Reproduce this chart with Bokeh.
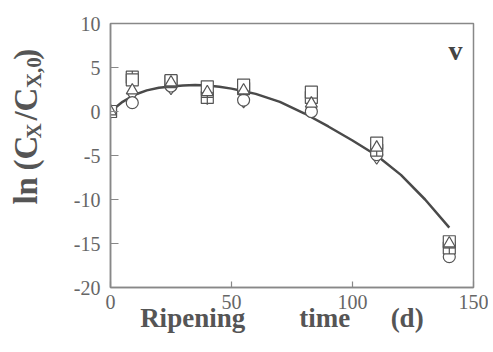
import math
from bokeh.plotting import figure
from bokeh.models import Range1d, Label, FixedTicker
from bokeh.layouts import row
from bokeh.core.properties import value
from bokeh.embed import file_html
from bokeh.resources import INLINE

# ---- data ----
days = [0, 9, 25, 40, 55, 83, 110, 140]
s_square = [0, 3.6, 3.5, 2.8, 3.0, 2.2, -3.6, -14.8]
s_square_cross = [0, 3.9, 3.4, 1.6, 2.6, 1.6, -4.4, -15.5]
s_triangle = [0, 2.4, 3.3, 2.2, 2.4, 0.9, -4.1, -15.0]
s_circle = [0, 1.0, 2.9, 2.0, 1.3, 0.0, -4.9, -16.5]
s_diamond = [0, 2.0, 2.7, 1.6, 1.2, 0.5, -5.2, -16.2]

fit_days = [0, 5, 10, 15, 20, 25, 30, 35, 40, 45, 50, 55, 60, 70, 80, 90, 100, 110, 120, 130, 140]
fit_vals = [0.0, 1.1, 1.9, 2.4, 2.7, 2.85, 2.95, 3.0, 2.95, 2.8, 2.6, 2.3, 2.0, 1.1, -0.2,
            -1.7, -3.3, -5.0, -7.2, -10.0, -13.2]

x_ticks = [0, 50, 100, 150]
x_tick_labels = ["0", "50", "100", "150"]
y_ticks = [-20, -15, -10, -5, 0, 5, 10]
y_tick_labels = ["-20", "-15", "-10", "-5", "0", "5", "10"]

x_title_words = ["Ripening", "time", "(d)"]

# ---- layout (picture pixels) ----
LEFT_W = 60               # strip holding the y-axis title
H = 344
MAIN_W = 428
FL, FT, FW, FH = 110, 23, 363, 264
X0, X1, Y0, Y1 = 0, 150, -20, 10

SERIF = "Liberation Serif"
GRAY = "#666666"
DARK = "#555555"
NB = "\u00a0"


def dx(px):
    return X0 + (px - FL) * (X1 - X0) / FW


def dy(py):
    return Y1 - (py - FT) * (Y1 - Y0) / FH


p = figure(width=MAIN_W, height=H, output_backend="svg", toolbar_location=None,
           x_range=Range1d(X0, X1), y_range=Range1d(Y0, Y1),
           min_border_left=FL - LEFT_W, min_border_right=LEFT_W + MAIN_W - FL - FW,
           min_border_top=FT, min_border_bottom=H - FT - FH)
p.grid.visible = False
p.background_fill_color = "white"
p.border_fill_color = "white"
p.outline_line_color = "#888888"
p.outline_line_width = 1.5

for ax in (p.xaxis[0], p.yaxis[0]):
    ax.axis_line_color = "#888888"
    ax.axis_line_width = 1.5
    ax.major_tick_line_color = "#888888"
    ax.major_tick_line_width = 1.2
    ax.major_tick_out = 0
    ax.minor_tick_line_color = None
    ax.major_label_text_font = SERIF
    ax.major_label_text_font_size = "20px"
    ax.major_label_text_color = GRAY

p.xaxis.ticker = FixedTicker(ticks=x_ticks)
p.yaxis.ticker = FixedTicker(ticks=y_ticks)
p.xaxis.major_label_overrides = dict(zip(x_ticks, x_tick_labels))
p.yaxis.major_label_overrides = dict(zip(y_ticks, y_tick_labels))
p.xaxis.major_tick_in = 6
p.yaxis.major_tick_in = 8
p.xaxis.major_label_standoff = 7
p.yaxis.major_label_standoff = 10

# x-axis title, words spread like the original
p.xaxis.axis_label = x_title_words[0] + NB * 8 + x_title_words[1] + NB * 6 + x_title_words[2] + NB * 3
p.xaxis.axis_label_text_font = SERIF
p.xaxis.axis_label_text_font_style = "bold"
p.xaxis.axis_label_text_font_size = "27px"
p.xaxis.axis_label_text_color = DARK
p.xaxis.axis_label_standoff = -9

# fitted curve
p.line(fit_days, fit_vals, line_color="#4a4a4a", line_width=2.5)

mk = dict(fill_color="white", line_color="#555555", line_width=1.2)
p.scatter(days, s_diamond, marker="diamond", size=14, **mk)
p.scatter(days, s_circle, marker="circle", size=12, **mk)
p.scatter(days, s_square_cross, marker="square_cross", size=12, **mk)
p.scatter(days, s_square, marker="square", size=12, **mk)
p.scatter(days, s_triangle, marker="triangle", size=12, **mk)

# panel letter (inside the frame)
p.add_layout(Label(x=dx(455), y=dy(50), text="v", text_font=SERIF, text_font_style="bold",
                   text_font_size="28px", text_color="#444444", text_align="center",
                   text_baseline="alphabetic"))

# ---- y-axis title strip (a plain figure without axes) ----
left = figure(width=LEFT_W, height=H, output_backend="svg", toolbar_location=None,
              x_range=Range1d(0, LEFT_W), y_range=Range1d(0, H),
              x_axis_type=None, y_axis_type=None, min_border=0)
left.grid.visible = False
left.outline_line_color = None
left.background_fill_color = "white"
left.border_fill_color = "white"
for txt, y, bx, fs in [("ln", 218, 25, "33px"), ("(C", 169, 25, "33px"), ("X", 140, 33, "21px"),
                       ("/C", 105, 25, "33px"), ("X,0", 64, 33, "21px"), (")", 40, 25, "33px")]:
    left.text(x=[bx], y=[H - y], text=[txt], angle=math.pi / 2,
              text_font=value(SERIF), text_font_style="bold", text_font_size=value(fs),
              text_color=DARK, text_align="center", text_baseline="alphabetic")

layout = row(left, p, spacing=0)
open("out.html", "w").write(file_html(layout, INLINE))
